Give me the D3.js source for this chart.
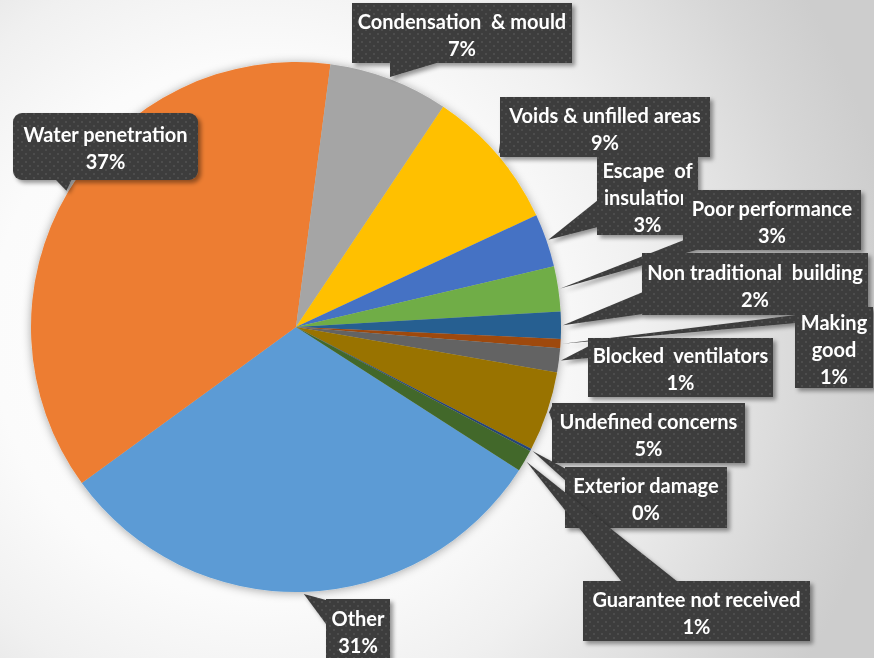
<!DOCTYPE html>
<html>
<head>
<meta charset="utf-8">
<script src="https://cdn.jsdelivr.net/npm/d3@7"></script>
<style>
  html, body { margin: 0; padding: 0; background: #fff; }
  svg { display: block; }
</style>
</head>
<body>
<svg id="pieChart" width="874" height="658"></svg>
<script>
// slices, in the order the spreadsheet plots them (clockwise)
const categories = [
  "Other", "Water penetration", "Condensation & mould", "Voids & unfilled areas",
  "Escape of insulation", "Poor performance", "Non traditional building", "Making good",
  "Blocked ventilators", "Undefined concerns", "Exterior damage", "Guarantee not received"
];
const values = [30.9, 37.1, 7.3, 8.7, 3.25, 2.75, 1.64, 0.56, 1.47, 4.86, 0.15, 1.33];

// how each label wraps in its callout
const labelLines = [
  ["Other"], ["Water penetration"], ["Condensation  & mould"], ["Voids & unfilled areas"],
  ["Escape  of", "insulation"], ["Poor performance"], ["Non traditional  building"], ["Making", "good"],
  ["Blocked  ventilators"], ["Undefined concerns"], ["Exterior damage"], ["Guarantee not received"]
];

const colors = [
  "#5B9BD5", "#ED7D31", "#A5A5A5", "#FFC000", "#4472C4", "#70AD47",
  "#255E91", "#9E480E", "#636363", "#997300", "#264478", "#43682B"
];

// callout boxes: x, y, w, h and the two base points of the pointer (relative to the box)
const callouts = [
  { x: 326, y: 599, w: 64, h: 62, base: [[0, 1], [0, 25]] },
  { x: 13, y: 113, w: 185, h: 67, rx: 9, base: [[42, 66], [59, 66]] },
  { x: 352, y: 3, w: 220, h: 60, base: [[38, 59], [88, 59]] },
  { x: 500, y: 97, w: 210, h: 60, base: [[1, 38], [1, 55]] },
  { x: 597, y: 157, w: 101, h: 78, base: [[1, 43], [1, 70]] },
  { x: 683, y: 190, w: 178, h: 60, base: [[1, 50], [17, 59]] },
  { x: 642, y: 253, w: 226, h: 62, base: [[1, 39], [1, 61]] },
  { x: 795, y: 307, w: 78, h: 81, base: [[1, 8], [1, 16]] },
  { x: 588, y: 338, w: 185, h: 59, base: [[1, 8], [1, 20]] },
  { x: 552, y: 403, w: 193, h: 60, base: [[1, 1], [1, 20]] },
  { x: 565, y: 467, w: 162, h: 61, base: [[1, 2], [1, 14]] },
  { x: 583, y: 581, w: 227, h: 60, base: [[39, 1], [95, 1]] }
];

const svg = d3.select("#pieChart");
const width = +svg.attr("width");
const height = +svg.attr("height");
const cx = 296, cy = 327, radius = 265;

const defs = svg.append("defs");

const bg = defs.append("radialGradient")
  .attr("id", "bgGrad")
  .attr("gradientUnits", "userSpaceOnUse")
  .attr("cx", 260).attr("cy", 330).attr("r", 640);
[[0, "#ffffff"], [0.42, "#fbfbfb"], [0.6, "#f0f0f0"], [0.88, "#d6d6d6"], [1, "#cdcdcd"]]
  .forEach(s => bg.append("stop").attr("offset", s[0]).attr("stop-color", s[1]));

const dots = defs.append("pattern")
  .attr("id", "dots")
  .attr("patternUnits", "userSpaceOnUse")
  .attr("width", 8).attr("height", 8);
dots.append("rect").attr("width", 8).attr("height", 8).attr("fill", "#3d3d3d");
dots.append("circle").attr("cx", 2).attr("cy", 2).attr("r", 1).attr("fill", "#545454");
dots.append("circle").attr("cx", 6).attr("cy", 6).attr("r", 1).attr("fill", "#545454");

defs.append("filter").attr("id", "pieShadow")
  .attr("x", "-10%").attr("y", "-10%").attr("width", "120%").attr("height", "120%")
  .append("feDropShadow")
  .attr("dx", 0).attr("dy", 1).attr("stdDeviation", 5)
  .attr("flood-color", "#000").attr("flood-opacity", 0.35);

defs.append("filter").attr("id", "boxShadow")
  .attr("x", "-20%").attr("y", "-20%").attr("width", "140%").attr("height", "140%")
  .append("feDropShadow")
  .attr("dx", 3).attr("dy", 3).attr("stdDeviation", 2)
  .attr("flood-color", "#000").attr("flood-opacity", 0.4);

svg.append("rect")
  .attr("width", width)
  .attr("height", height)
  .attr("fill", "url(#bgGrad)");

const data = categories.map((c, i) => ({ name: c, value: values[i], i }));
const total = d3.sum(values);
const pct = d3.format(".0%");

// first slice starts at about 4 o'clock like the original
const start = 122.7 * Math.PI / 180;
const pie = d3.pie()
  .value(d => d.value)
  .sort(null)
  .startAngle(start)
  .endAngle(start + 2 * Math.PI);

const arcs = pie(data);
const arc = d3.arc().innerRadius(0).outerRadius(radius);
const tipArc = d3.arc().innerRadius(radius + 2).outerRadius(radius + 2);

const g = svg.append("g").attr("transform", `translate(${cx},${cy})`);

g.append("g")
  .attr("filter", "url(#pieShadow)")
  .selectAll("path")
  .data(arcs)
  .enter()
  .append("path")
  .attr("d", arc)
  .attr("fill", d => colors[d.data.i]);

// callouts
const labels = svg.append("g")
  .selectAll("g")
  .data(arcs)
  .enter()
  .append("g")
  .attr("filter", "url(#boxShadow)");

labels.each(function (d) {
  const b = callouts[d.data.i];
  const sel = d3.select(this);
  const t = tipArc.centroid(d);
  const tip = [t[0] + cx, t[1] + cy];
  const p1 = [b.x + b.base[0][0], b.y + b.base[0][1]];
  const p2 = [b.x + b.base[1][0], b.y + b.base[1][1]];

  sel.append("path")
    .attr("d", `M${p1}L${tip}L${p2}Z`)
    .attr("fill", "url(#dots)");

  sel.append("rect")
    .attr("x", b.x).attr("y", b.y)
    .attr("width", b.w).attr("height", b.h)
    .attr("rx", b.rx || 0)
    .attr("fill", "url(#dots)");

  const lines = labelLines[d.data.i].concat([pct(d.data.value / total)]);
  const mid = b.y + b.h / 2 + 2;
  sel.selectAll("text")
    .data(lines)
    .enter()
    .append("text")
    .attr("x", b.x + b.w / 2)
    .attr("y", (s, k) => mid + (k - (lines.length - 1) / 2) * 27)
    .attr("dy", "0.35em")
    .attr("text-anchor", "middle")
    .style("white-space", "pre")
    .style("font-family", "Lato, 'Open Sans', sans-serif")
    .style("font-weight", "bold")
    .style("font-size", "20px")
    .attr("fill", "#ffffff")
    .text(s => s);
});
</script>
</body>
</html>
